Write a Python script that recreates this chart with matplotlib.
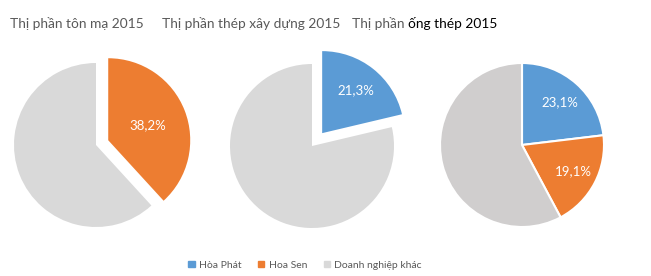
import matplotlib.pyplot as plt
from matplotlib.patches import Patch

# data
companies = ["Hòa Phát", "Hoa Sen", "Doanh nghiệp khác"]
colors = ["#5B9BD5", "#ED7D31", "#D9D9D9"]

ton_ma = [38.2, 61.8]          # Hoa Sen, other
thep_xd = [21.3, 78.7]         # Hòa Phát, other
ong_thep = [23.1, 19.1, 57.8]  # Hòa Phát, Hoa Sen, other

W, H = 651, 276
fig = plt.figure(figsize=(W / 100, H / 100), dpi=100)
plt.rcParams['font.family'] = ['Lato', 'DejaVu Sans']

R = 82  # pie radius in px


def make_ax(cx, cy):
    # cx, cy in pixels from top-left
    half = 110
    ax = fig.add_axes([(cx - half) / W, (H - cy - half) / H, 2 * half / W, 2 * half / H])
    return ax


def finish(ax):
    ax.set_xlim(-110 / R, 110 / R)
    ax.set_ylim(-110 / R, 110 / R)
    ax.set_aspect("equal")
    ax.axis("off")


def fmt(p):
    return f"{p:.1f}%".replace(".", ",")


# pie 1 - tôn mạ
ax1 = make_ax(96, 145)
w, t, a = ax1.pie(ton_ma, colors=[colors[1], colors[2]], startangle=90, counterclock=False,
                  explode=[0.16, 0], autopct=fmt, pctdistance=0.52, radius=1, frame=True,
                  textprops=dict(color="white", fontsize=9.5))
a[1].set_text("")
finish(ax1)

# pie 2 - thép xây dựng
ax2 = make_ax(312, 146)
w, t, a = ax2.pie(thep_xd, colors=[colors[0], colors[2]], startangle=90, counterclock=False,
                  explode=[0.2, 0], autopct=fmt, pctdistance=0.67, radius=1, frame=True,
                  textprops=dict(color="white", fontsize=9.5))
a[1].set_text("")
finish(ax2)

# pie 3 - ống thép
ax3 = make_ax(522, 145)
w, t, a = ax3.pie(ong_thep, colors=[colors[0], colors[1], "#D0CECE"], startangle=90,
                  counterclock=False, autopct=fmt, pctdistance=0.7, radius=1, frame=True,
                  wedgeprops=dict(edgecolor="white", linewidth=1.5),
                  textprops=dict(color="white", fontsize=9.5))
a[2].set_text("")
finish(ax3)

# titles
title_y = 1 - 23.5 / H
tfs = 9.9
fig.text(10 / W, title_y, "Thị phần tôn mạ 2015", fontsize=tfs, color="#595959", va="center")
fig.text(162 / W, title_y, "Thị phần thép xây dựng 2015", fontsize=tfs, color="#595959", va="center")
t1 = fig.text(352 / W, title_y, "Thị phần ", fontsize=tfs, color="#595959", va="center")
fig.canvas.draw()
bb = t1.get_window_extent()
fig.text(bb.x1 / W, title_y, "ống thép 2015", fontsize=tfs, color="black", va="center")

# legend
handles = [Patch(color=c) for c in colors]
fig.legend(handles, companies, loc="center", bbox_to_anchor=(305 / W, 11 / H), ncol=3,
           frameon=False, fontsize=7.5, handlelength=0.6, handleheight=0.6,
           handletextpad=0.4, columnspacing=1.6, labelcolor="#595959")

fig.savefig("out.png", dpi=100)
